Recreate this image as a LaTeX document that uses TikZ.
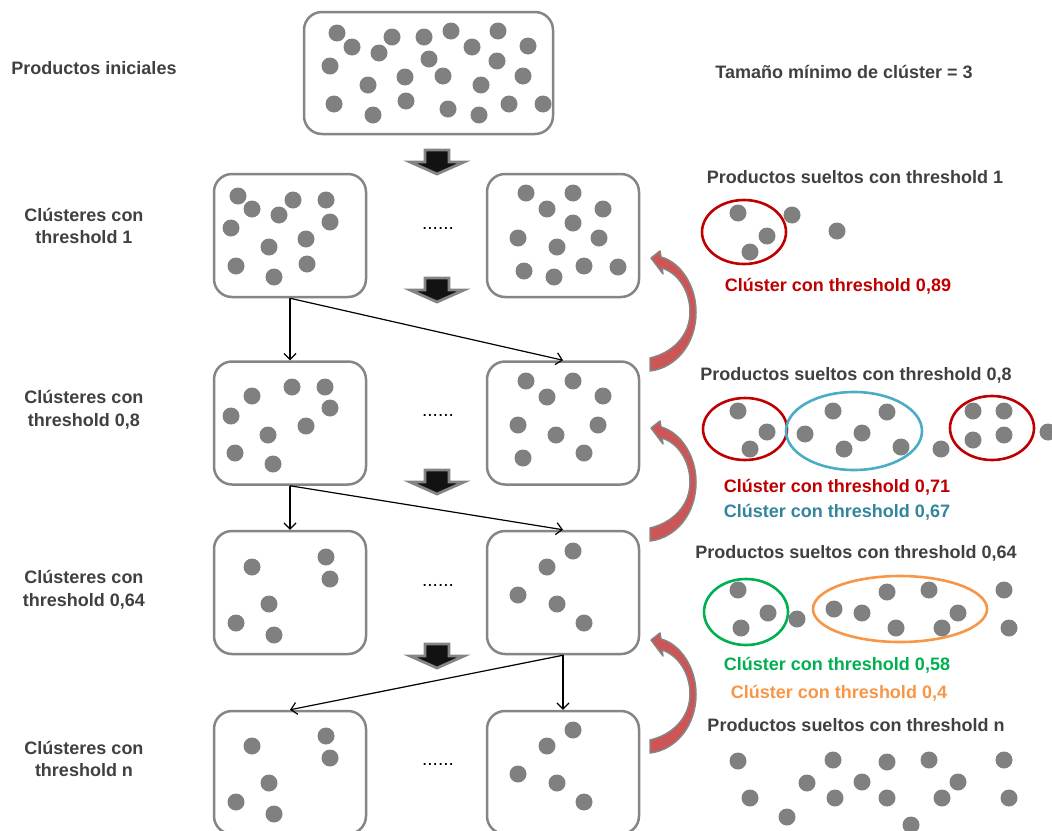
\documentclass[tikz,border=0pt]{standalone}
\usepackage{fontspec}
\setmainfont{Liberation Sans}
\usetikzlibrary{arrows.meta}
\definecolor{dotgray}{HTML}{808080}
\definecolor{boxgray}{HTML}{858585}
\definecolor{txtgray}{HTML}{404040}
\definecolor{cred}{HTML}{C00000}
\definecolor{cblue}{HTML}{4BACC6}
\definecolor{tblue}{HTML}{31859C}
\definecolor{cgreen}{HTML}{00B050}
\definecolor{corange}{HTML}{F79646}
\definecolor{arcred}{RGB}{205,85,85}
\begin{document}
\begin{tikzpicture}[x=1pt,y=-1pt,
  box/.style={draw=boxgray, line width=2.5pt, rounded corners=18pt,
    minimum width=152pt, minimum height=123pt, inner sep=0pt},
  topbox/.style={box, minimum width=249pt, minimum height=122pt},
  lbl/.style={font=\fontsize{18}{22.5}\selectfont\bfseries, text=txtgray,
    inner sep=0pt, align=center},
  clbl/.style={font=\fontsize{18}{22}\selectfont\bfseries, inner sep=0pt},
  dotrow/.style={font=\fontsize{19}{20}\selectfont, inner sep=0pt},
  link/.style={line width=1.2pt, -{Straight Barb[length=6pt,width=12pt]}},
  clus/.style={line width=2.6pt},
  downarrow/.pic={
    \filldraw[draw=boxgray, fill=black!93, line width=2.8pt, line join=miter]
      (-12,0) -- (12,0) -- (12,12) -- (27,12) -- (0,24) -- (-27,12) -- (-12,12) -- cycle;},
  backarrow/.pic={
    \filldraw[fill=arcred, draw=boxgray, line width=1.5pt, line join=round]
      (0,100) .. controls (22,95) and (40,78) .. (40,54)
      .. controls (40,33) and (28,15) .. (12,10)
      -- (13,16) -- (1,0) -- (10,-7) -- (11,-1)
      .. controls (30,4) and (46,27) .. (46,54)
      .. controls (46,87) and (25,110) .. (0,113) -- cycle;}
]
\useasboundingbox (0,0) rectangle (1052,830);
\clip (0,0) rectangle (1052,830);

% boxes of products
\node[topbox] (b0) at (428.5,73) {};
\node[box] (b1l) at (290,235.5) {};
\node[box] (b1r) at (563,235.5) {};
\node[box] (b2l) at (290,423) {};
\node[box] (b2r) at (563,423) {};
\node[box] (b3l) at (290,592.5) {};
\node[box] (b3r) at (563,592.5) {};
\node[box] (b4l) at (290,772.5) {};
\node[box] (b4r) at (563,772.5) {};

% products inside the boxes
\foreach \x/\y in {337/33,352/47,330/66,368/85,334/104,373/115,392/37,379/53,
  405/77,406/101,424/37,429/59,451/31,443/76,448/109,472/47,481/85,479/115,
  498/31,497/61,528/46,523/76,509/104,543/104,
  238/196,252/209,231/228,279/215,293/200,326/200,330/222,269/247,306/239,
  236/266,274/277,307/264,
  526/193,573/193,547/209,603/209,573/223,518/238,557/247,599/238,524/271,
  554/277,584/266,618/267,
  252/396,292/387,325/387,231/416,330/408,268/435,306/426,235/453,273/464,
  526/381,573/381,547/397,603/396,518/425,556/435,598/425,523/458,584/453}
  \fill[dotgray] (\x,\y) circle (8.5pt);
\foreach \dy in {0,179}
  \foreach \x/\y in {252/567,326/557,330/579,269/604,236/623,274/635,
    573/551,547/567,518/595,557/604,584/623}
    \fill[dotgray] (\x,\y+\dy) circle (8.5pt);

% ellipsis between columns
\node[dotrow] (e1) at (438,228) {......};
\node[dotrow] (e2) at (438,415) {......};
\node[dotrow] (e3) at (438,585) {......};
\node[dotrow] (e4) at (438,764) {......};

% step arrows
\pic at (437,150) {downarrow};
\pic at (437,278) {downarrow};
\pic at (437,470) {downarrow};
\pic at (437,644) {downarrow};

% links between levels
\draw[link] (b1l.south) -- (b2l.north);
\draw[link] (b1l.south) -- (b2r.north);
\draw[link] (b2l.south) -- (b3l.north);
\draw[link] (b2l.south) -- (b3r.north);
\draw[link] (b3r.south) -- (b4r.north);
\draw[link] (b3r.south) -- (b4l.north);

% loose products fed back
\pic at (650,258) {backarrow};
\pic at (650,428) {backarrow};
\pic at (650,640) {backarrow};

% left labels
\node[lbl] (l0) at (94,68) {Productos iniciales};
\node[lbl] (l1) at (84,226) {Clústeres con\\threshold 1};
\node[lbl] (l2) at (84,410) {Clústeres con\\threshold 0,8};
\node[lbl] (l3) at (84,590) {Clústeres con\\threshold 0,64};
\node[lbl] (l4) at (84,759) {Clústeres con\\threshold n};

% right side
\node[lbl] (tmin) at (844,72) {Tamaño mínimo de clúster = 3};
\node[lbl] (s1) at (855,177) {Productos sueltos con threshold 1};
\node[lbl] (s2) at (856,375) {Productos sueltos con threshold 0,8};
\node[lbl] (s3) at (856,553) {Productos sueltos con threshold 0,64};
\node[lbl] (s4) at (856,725) {Productos sueltos con threshold n};

\node[clbl, text=cred] (c1) at (838,286) {Clúster con threshold 0,89};
\node[clbl, text=cred] (c2) at (837,487) {Clúster con threshold 0,71};
\node[clbl, text=tblue] (c3) at (837,512) {Clúster con threshold 0,67};
\node[clbl, text=cgreen] (c4) at (837,665) {Clúster con threshold 0,58};
\node[clbl, text=corange] (c5) at (839,693) {Clúster con threshold 0,4};

% loose products and their clusters
\foreach \x/\y in {738/213,767/236,750/252,792/215,837/231,
  738/411,767/432,750/449,805/434,833/411,862/433,844/449,887/412,901/447,
  941/449,973/411,1004/411,973/440,1004/435,1048/432,
  738/590,768/613,741/628,797/619,834/609,862/613,887/592,896/628,929/590,
  942/628,958/613,1004/590,1009/628,
  738/761,750/798,787/817,807/783,833/760,835/798,862/782,887/762,887/798,
  911/825,929/760,942/798,958/782,1004/760,1009/798}
  \fill[dotgray] (\x,\y) circle (8.5pt);

\draw[clus, cred] (744,232) ellipse [x radius=42pt, y radius=32pt];
\draw[clus, cred] (745,429) ellipse [x radius=42pt, y radius=31pt];
\draw[clus, cblue] (854,431) ellipse [x radius=68pt, y radius=39pt];
\draw[clus, cred] (992,428) ellipse [x radius=42pt, y radius=32pt];
\draw[clus, cgreen] (746,612) ellipse [x radius=42pt, y radius=33pt];
\draw[clus, corange] (900,609) ellipse [x radius=87pt, y radius=33pt];
\end{tikzpicture}
\end{document}
